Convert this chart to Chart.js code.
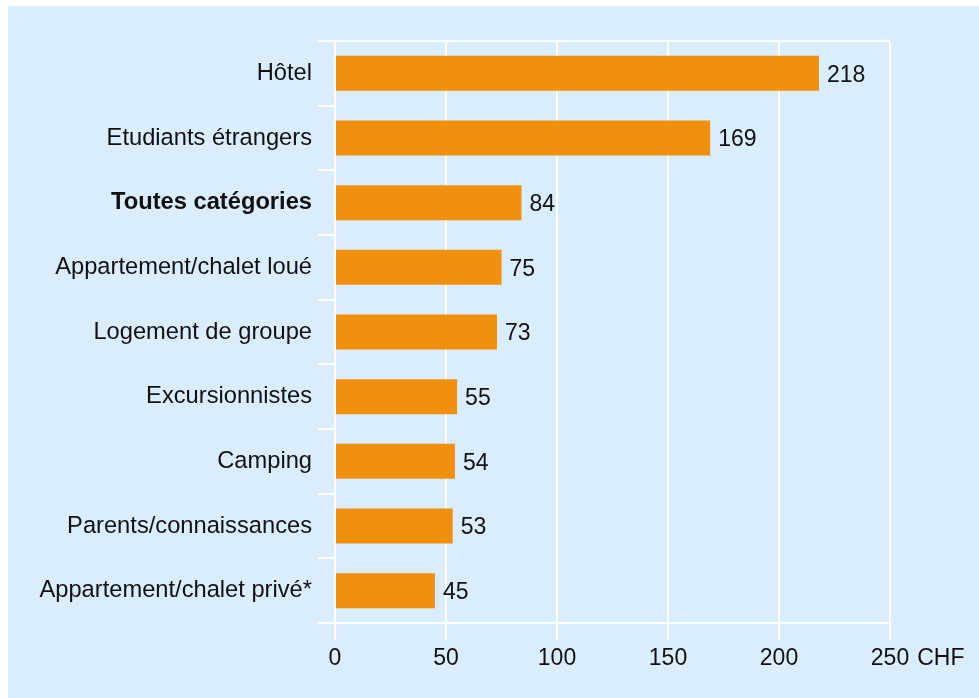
<!doctype html>
<html>
<head>
<meta charset="UTF-8">
<title>Dépenses par catégorie</title>
<script src="https://cdn.jsdelivr.net/npm/chart.js"></script>
<style>
  html, body { margin: 0; padding: 0; background: #ffffff; }
  #panel {
    position: absolute; left: 8px; top: 6px;
    width: 971px; height: 692px;
    background: #daedfd;
  }
</style>
</head>
<body>
<div id="panel"><canvas id="chart" width="971" height="692"></canvas></div>
<script>
const categories = [
  "Hôtel",
  "Etudiants étrangers",
  "Toutes catégories",
  "Appartement/chalet loué",
  "Logement de groupe",
  "Excursionnistes",
  "Camping",
  "Parents/connaissances",
  "Appartement/chalet privé*"
];
const values = [218, 169, 84, 75, 73, 55, 54, 53, 45];
const xTicks = [0, 50, 100, 150, 200, 250];
const unit = "CHF";
const boldCategory = "Toutes catégories";

const FONT = "'Liberation Sans', Arial, sans-serif";
const SIZE = 23;

// value labels to the right of each bar, plus the unit after the last tick
const labelPlugin = {
  id: "labels",
  afterDatasetsDraw(chart) {
    const ctx = chart.ctx;
    const meta = chart.getDatasetMeta(0);
    ctx.save();
    ctx.font = `${SIZE}px ${FONT}`;
    ctx.fillStyle = "#111";
    ctx.textAlign = "left";
    ctx.textBaseline = "middle";
    meta.data.forEach((bar, i) => {
      ctx.fillText(String(values[i]), bar.x + 8, bar.y + 2);
    });
    const x = chart.scales.x;
    const last = xTicks[xTicks.length - 1];
    const w = ctx.measureText(String(last)).width;
    const lbl = x.getLabelItems().find(it => it.label === String(last));
    ctx.textBaseline = lbl.options.textBaseline;
    const y = lbl.options.translation[1] + (lbl.textOffset || 0);
    ctx.fillText(unit, x.getPixelForValue(last) + w / 2 + 8, y);
    ctx.restore();
  }
};

new Chart("chart", {
  type: "bar",
  data: {
    labels: categories,
    datasets: [{
      data: values,
      backgroundColor: "#f18f0e",
      barPercentage: 0.54,
      categoryPercentage: 1
    }]
  },
  options: {
    indexAxis: "y",
    responsive: false,
    animation: false,
    layout: { padding: { top: 35, right: 89, left: 0, bottom: 0 } },
    plugins: { legend: { display: false }, tooltip: { enabled: false } },
    scales: {
      x: {
        min: 0,
        max: 250,
        afterBuildTicks: (scale) => { scale.ticks = xTicks.map(v => ({ value: v })); },
        afterFit: (scale) => { scale.height = 75; },
        border: { color: "#ffffff", width: 2 },
        grid: { color: "#ffffff", lineWidth: 2, tickLength: 17 },
        ticks: {
          padding: 5,
          color: "#111",
          font: { family: FONT, size: SIZE }
        }
      },
      y: {
        afterFit: (scale) => { scale.width = 327; },
        border: { color: "#ffffff", width: 2 },
        grid: {
          offset: true,
          lineWidth: 2,
          tickLength: 17,
          tickColor: "#ffffff",
          color: (c) => (c.index === 0 ? "#ffffff" : "rgba(0,0,0,0)")
        },
        ticks: {
          padding: 6,
          color: "#111",
          font: (c) => ({
            family: FONT,
            size: 23.7,
            weight: categories[c.index] === boldCategory ? "bold" : "normal"
          })
        }
      }
    }
  },
  plugins: [labelPlugin]
});
</script>
</body>
</html>
